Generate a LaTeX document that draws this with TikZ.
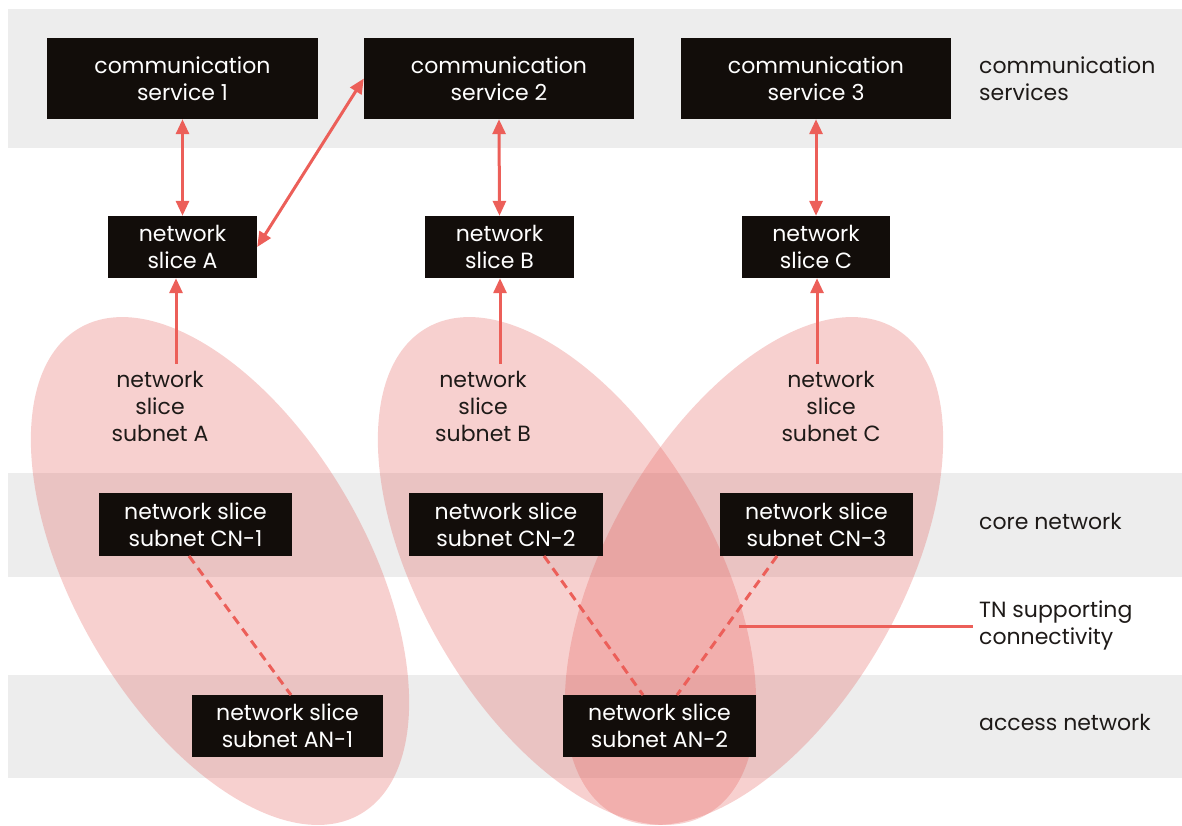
\documentclass[tikz,border=0pt]{standalone}
\usepackage{fontspec}
\setmainfont{Poppins}
\usetikzlibrary{arrows.meta}
\definecolor{bandc}{HTML}{EDEDED}
\definecolor{boxc}{HTML}{120D0A}
\definecolor{redc}{HTML}{EC5F59}
\definecolor{ellc}{RGB}{228,88,84}
\definecolor{txtc}{HTML}{1E1A18}
\tikzset{
  blk/.style={fill=boxc, text=white, inner sep=0pt, align=center,
    minimum height=#1, font=\fontsize{22}{27}\selectfont},
  lbl/.style={text=txtc, inner sep=0pt, align=center, font=\fontsize{22}{27}\selectfont},
  side/.style={text=txtc, inner sep=0pt, align=left, anchor=west, font=\fontsize{22}{27}\selectfont},
  arr/.style={draw=redc, line width=3pt, -{Triangle[length=15pt,width=13pt]}},
  darr/.style={draw=redc, line width=3pt, {Triangle[length=15pt,width=13pt]}-{Triangle[length=15pt,width=13pt]}},
  dsh/.style={draw=redc, line width=3pt, dash pattern=on 9pt off 6pt},
  slicefill/.style={fill=ellc, fill opacity=0.28}
}
\begin{document}
\begin{tikzpicture}[x=1pt,y=-1pt]
\useasboundingbox (0,0) rectangle (1182,825);
% bands
\fill[bandc] (8,9) rectangle (1182,148);
\fill[bandc] (8,473) rectangle (1182,577);
\fill[bandc] (8,675) rectangle (1182,778);
% slice subnet ellipses
\begin{scope}[shift={(220,571)}, rotate=30]
  \fill[slicefill] (0,0) ellipse [x radius=146.4pt, y radius=280.7pt];
\end{scope}
\begin{scope}[shift={(567,571)}, rotate=30]
  \fill[slicefill] (0,0) ellipse [x radius=146.4pt, y radius=280.7pt];
\end{scope}
\begin{scope}[shift={(754,571)}, rotate=-30]
  \fill[slicefill] (0,0) ellipse [x radius=146.4pt, y radius=280.7pt];
\end{scope}
% communication services
\node[blk=81pt, minimum width=271pt] (cs1) at (182.5,78.5) {communication\\service 1};
\node[blk=81pt, minimum width=270pt] (cs2) at (499,78.5) {communication\\service 2};
\node[blk=81pt, minimum width=270pt] (cs3) at (816,78.5) {communication\\service 3};
% network slices
\node[blk=62pt, minimum width=149pt] (sA) at (182.5,247) {network\\slice A};
\node[blk=62pt, minimum width=149pt] (sB) at (499.5,247) {network\\slice B};
\node[blk=62pt, minimum width=148pt] (sC) at (816,247) {network\\slice C};
% subnet labels
\node[lbl] (lA) at (160,406) {network\\slice\\subnet A};
\node[lbl] (lB) at (483,406) {network\\slice\\subnet B};
\node[lbl] (lC) at (831,406) {network\\slice\\subnet C};
% core network subnets
\node[blk=63pt, minimum width=193pt] (cn1) at (195.5,524.5) {network slice\\subnet CN-1};
\node[blk=63pt, minimum width=194pt] (cn2) at (506,524.5) {network slice\\subnet CN-2};
\node[blk=63pt, minimum width=193pt] (cn3) at (816.5,524.5) {network slice\\subnet CN-3};
% access network subnets
\node[blk=62pt, minimum width=191pt] (an1) at (287.5,726) {network slice\\subnet AN-1};
\node[blk=62pt, minimum width=193pt] (an2) at (659.5,726) {network slice\\subnet AN-2};
% side labels
\node[side] (tcs) at (979,78.5) {communication\\services};
\node[side] (tcn) at (979,521) {core network};
\node[side] (ttn) at (979,625) {TN supporting\\connectivity};
\node[side] (tan) at (979,722) {access network};
% arrows
\draw[darr] (cs1.south) -- (sA.north);
\draw[darr] (cs2.south) -- (sB.north);
\draw[darr] (cs3.south) -- (sC.north);
\draw[darr] (sA.east) -- (cs2.west);
\coordinate (tA) at (176,364);
\coordinate (tB) at (500,364);
\coordinate (tC) at (817,364);
\draw[arr] (tA) -- (tA |- sA.south);
\draw[arr] (tB) -- (tB |- sB.south);
\draw[arr] (tC) -- (tC |- sC.south);
% dashed TN links
\coordinate (c1) at (189,556);
\coordinate (a1) at (291,695);
\coordinate (c2) at (544,556);
\coordinate (a2l) at (643,695);
\coordinate (c3) at (777,556);
\coordinate (a2r) at (677,695);
\draw[dsh] (c1) -- (a1);
\draw[dsh] (c2) -- (a2l);
\draw[dsh] (c3) -- (a2r);
% TN pointer line
\coordinate (tnp) at (739,626);
\draw[redc, line width=3pt] (tnp) -- ([xshift=-6pt]tnp -| ttn.west);
\end{tikzpicture}
\end{document}
